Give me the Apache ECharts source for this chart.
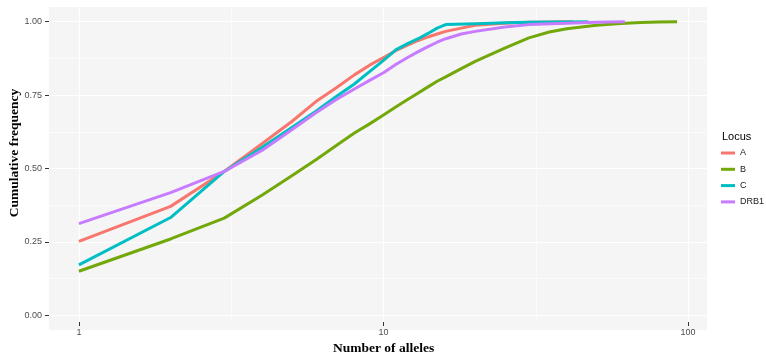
<!DOCTYPE html>
<html>
<head>
<meta charset="utf-8">
<script src="https://cdn.jsdelivr.net/npm/echarts@6/dist/echarts.min.js"></script>
<style>html,body{margin:0;padding:0;background:#fff;}#c{width:766px;height:361px;}</style>
</head>
<body>
<div id="c"></div>
<script>
// ---- data (number of alleles, cumulative frequency) ----
const lociNames = ['A', 'B', 'C', 'DRB1'];
const allelesA = [1, 2, 3, 4, 5, 6, 7, 8, 9, 10, 11, 12, 13, 14, 15, 16, 18, 20, 25, 30, 42];
const freqA    = [0.252, 0.371, 0.49, 0.585, 0.66, 0.728, 0.775, 0.818, 0.852, 0.878, 0.902, 0.92, 0.936, 0.948, 0.958, 0.967, 0.978, 0.988, 0.995, 0.998, 1.0];
const allelesB = [1, 2, 3, 4, 5, 6, 7, 8, 9, 10, 11, 12, 13, 14, 15, 16, 18, 20, 25, 30, 35, 40, 50, 60, 70, 80, 92];
const freqB    = [0.15, 0.26, 0.331, 0.41, 0.475, 0.53, 0.578, 0.62, 0.652, 0.682, 0.71, 0.735, 0.757, 0.778, 0.797, 0.812, 0.84, 0.865, 0.91, 0.945, 0.965, 0.976, 0.988, 0.994, 0.997, 0.999, 1.0];
const allelesC = [1, 2, 3, 4, 5, 6, 7, 8, 9, 10, 11, 12, 13, 14, 15, 16, 20, 25, 30, 47];
const freqC    = [0.172, 0.333, 0.49, 0.572, 0.64, 0.695, 0.745, 0.787, 0.83, 0.868, 0.905, 0.925, 0.942, 0.96, 0.978, 0.99, 0.993, 0.996, 0.998, 1.0];
const allelesDRB1 = [1, 2, 3, 4, 5, 6, 7, 8, 9, 10, 11, 12, 13, 14, 15, 16, 18, 20, 25, 30, 40, 50, 62];
const freqDRB1    = [0.312, 0.418, 0.49, 0.562, 0.632, 0.69, 0.735, 0.77, 0.8, 0.826, 0.855, 0.878, 0.898, 0.915, 0.93, 0.942, 0.958, 0.967, 0.982, 0.99, 0.995, 0.998, 1.0];
const xTickValues = [1, 10, 100];
const yTickLabels = ['0.00', '0.25', '0.50', '0.75', '1.00'];

const colors = ['#F8766D', '#72A80A', '#00BFC4', '#C77CFF'];
const allelesList = [allelesA, allelesB, allelesC, allelesDRB1];
const freqList = [freqA, freqB, freqC, freqDRB1];

// ggplot-like expansion (5%) of the data range
const maxAlleles = Math.max(...allelesB);
const logSpan = Math.log10(maxAlleles);
const xMin = Math.pow(10, -0.05 * logSpan);
const xMax = Math.pow(10, 1.05 * logSpan);
const yMin = -0.05, yMax = 1.05;

// panel geometry
const pL = 49, pR = 707, pT = 7, pB = 330;
const pW = pR - pL, pH = pB - pT;
const decadePx = pW / (Math.log10(xMax) - Math.log10(xMin));
const x1px = pL + (0 - Math.log10(xMin)) * decadePx;
const x100px = pL + (2 - Math.log10(xMin)) * decadePx;
const y1px = pT + (yMax - 1) / (yMax - yMin) * pH;
const y0px = pT + (yMax - 0) / (yMax - yMin) * pH;

const chart = echarts.init(document.getElementById('c'), null, {renderer: 'canvas'});
const tickFont = {fontFamily: 'Liberation Sans', fontSize: 9, color: '#4D4D4D'};

const series = lociNames.map((name, i) => ({
  name: name,
  type: 'line',
  xAxisIndex: 0, yAxisIndex: 0,
  showSymbol: false,
  symbol: 'none',
  lineStyle: {width: 3, color: colors[i]},
  itemStyle: {color: colors[i]},
  data: allelesList[i].map((n, j) => [n, freqList[i][j]]),
  z: 3
}));

chart.setOption({
  animation: false,
  backgroundColor: '#ffffff',
  title: {
    text: 'Locus', left: 717, top: 126,
    textStyle: {fontFamily: 'Liberation Sans', fontSize: 11, fontWeight: 'normal', color: '#000'}
  },
  legend: {
    data: lociNames,
    orient: 'vertical',
    left: 721, top: 147,
    padding: 0,
    icon: 'rect',
    itemWidth: 14, itemHeight: 3,
    itemGap: 4.3,
    textStyle: {fontFamily: 'Liberation Sans', fontSize: 9, color: '#1a1a1a', lineHeight: 12}
  },
  graphic: [{
    type: 'text',
    x: 15, y: 153,
    rotation: Math.PI / 2,
    style: {
      text: 'Cumulative frequency',
      font: 'bold 13.5px "Liberation Serif"',
      fill: '#000',
      align: 'center', verticalAlign: 'middle'
    }
  }],
  grid: [
    {left: pL, top: pT, width: pW, height: pH, show: true, backgroundColor: '#F5F5F5', borderWidth: 0},
    {left: x1px, top: pT, width: x100px - x1px, height: pH, show: false},
    {left: pL, top: y1px, width: pW, height: y0px - y1px, show: false}
  ],
  xAxis: [
    {gridIndex: 0, type: 'log', logBase: 10, min: xMin, max: xMax, show: false},
    {gridIndex: 1, type: 'value', min: 0, max: 2, interval: 1, z: 1,
     name: 'Number of alleles', nameLocation: 'middle', nameGap: 20,
     nameTextStyle: {fontFamily: 'Liberation Serif', fontWeight: 'bold', fontSize: 13.5, color: '#000'},
     axisLine: {show: false},
     axisTick: {show: true, length: 4, lineStyle: {color: '#333', width: 1}},
     axisLabel: Object.assign({margin: 6, formatter: v => String(xTickValues[Math.round(v)])}, tickFont),
     splitLine: {show: true, lineStyle: {color: '#ffffff', width: 1.2}},
     minorTick: {show: false, splitNumber: 2},
     minorSplitLine: {show: true, lineStyle: {color: '#ffffff', width: 0.6}}
    },
    {gridIndex: 2, type: 'value', min: 0, max: 1, show: false}
  ],
  yAxis: [
    {gridIndex: 0, type: 'value', min: yMin, max: yMax, show: false},
    {gridIndex: 1, type: 'value', min: 0, max: 1, show: false},
    {gridIndex: 2, type: 'value', min: 0, max: 1, interval: 0.25, z: 1,
     axisLine: {show: false},
     axisTick: {show: true, length: 4, lineStyle: {color: '#333', width: 1}},
     axisLabel: Object.assign({margin: 7, formatter: v => yTickLabels[Math.round(v / 0.25)]}, tickFont),
     splitLine: {show: true, lineStyle: {color: '#ffffff', width: 1.2}},
     minorTick: {show: false, splitNumber: 2},
     minorSplitLine: {show: true, lineStyle: {color: '#ffffff', width: 0.6}}
    }
  ],
  series: series
});
</script>
</body>
</html>
